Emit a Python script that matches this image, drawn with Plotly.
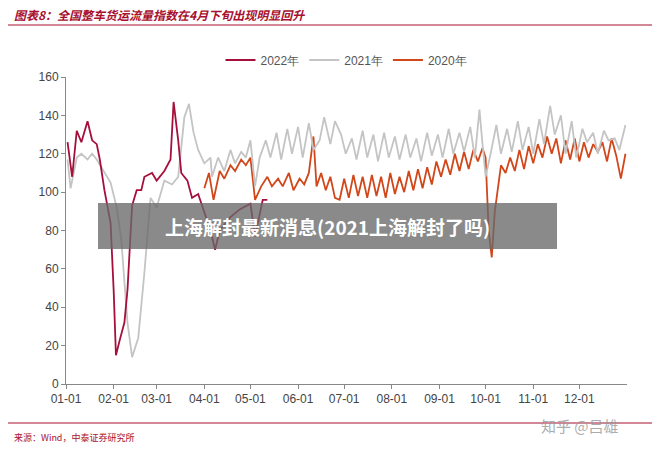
import plotly.graph_objects as go

# 横轴为一年中的天数
month_days = [0, 31, 59, 90, 120, 151, 181, 212, 243, 273, 304, 334]
month_labels = ["01-01", "02-01", "03-01", "04-01", "05-01", "06-01",
                "07-01", "08-01", "09-01", "10-01", "11-01", "12-01"]

days_2022 = [1, 4, 7, 10, 14, 17, 20, 22, 25, 29, 31, 32.5, 35, 38, 40, 43, 46, 49, 51, 56,
             59, 64, 68, 70, 73, 75, 79, 82, 86, 89, 94, 97, 100, 107, 113, 120, 123, 128, 131]
vals_2022 = [126, 108, 132, 126, 137, 127, 125, 117, 101, 84, 49, 15, 23, 32, 49, 93, 101, 101, 108, 110,
             106, 111, 117, 147, 127, 110, 106, 97, 99, 92, 80, 70, 80, 87, 91, 94, 77, 96, 96]

days_2021 = [1, 3, 7, 10, 14, 17, 20, 25, 29, 33, 36, 40, 43, 47, 51, 55, 59, 64, 69, 73, 77, 80, 83,
             86, 90, 94, 95, 99, 103, 107, 110, 114, 117, 120, 123,
             126, 130, 133, 137, 140, 144, 147, 151, 154, 158, 161, 165, 168, 172, 175, 179, 182, 186,
             189, 193, 196, 200, 203, 207, 210, 214, 217, 221, 224, 228, 231, 235, 238, 242, 245, 249,
             252, 256, 259, 263, 266, 269, 271, 273, 276, 280, 283, 287, 290, 294, 297, 301, 304, 308,
             311, 315, 318, 322, 325, 329, 332, 336, 339, 343, 346, 350, 353, 357, 360, 364]
vals_2021 = [117, 102, 118, 120, 117, 120, 117, 110, 105, 92, 75, 32, 14, 24, 58, 97, 92, 106, 104, 108,
             139, 146, 131, 122, 115, 118, 108, 118, 111, 122, 115, 121, 118, 127, 103,
             118, 127, 118, 131, 117, 133, 120, 134, 118, 136, 122, 127, 139, 125, 137, 130, 120, 128,
             117, 132, 118, 130, 116, 131, 118, 129, 117, 130, 118, 128, 116, 131, 119, 130, 118, 133,
             120, 131, 121, 134, 118, 143, 125, 108, 119, 135, 120, 133, 121, 137, 122, 134, 120, 138,
             125, 145, 130, 140, 120, 137, 118, 133, 126, 131, 120, 132, 127, 128, 122, 135]

days_2020 = [90, 93, 96, 100, 103, 107, 110, 114, 117, 120, 123, 127, 131, 134, 138, 141, 145, 148,
             152, 155, 158, 161, 163, 166, 169, 172, 175, 178, 181, 184, 187, 190, 193, 196, 199, 202,
             205, 208, 211, 214, 217, 220, 223, 226, 229, 232, 235, 238, 241, 244, 247, 250, 253, 256,
             259, 262, 265, 268, 271, 273, 275, 277, 279, 283, 286, 289, 292, 295, 298, 301, 304, 307,
             310, 313, 316, 319, 322, 325, 328, 331, 334, 337, 340, 343, 346, 349, 352, 355, 358, 361, 364]
vals_2020 = [102, 110, 96, 111, 107, 114, 111, 117, 114, 118, 96, 103, 108, 103, 107, 103, 110, 101,
             107, 104, 110, 129, 103, 110, 101, 108, 97, 96, 107, 97, 109, 98, 108, 97, 109, 98,
             108, 97, 110, 99, 108, 100, 111, 101, 112, 102, 113, 104, 116, 108, 117, 109, 120, 111,
             121, 112, 122, 116, 123, 118, 80, 66, 90, 114, 110, 118, 111, 122, 112, 124, 115, 125,
             118, 129, 120, 128, 115, 127, 117, 128, 116, 126, 118, 125, 121, 126, 116, 128, 119, 107, 120]

RED = "#A8102E"


def px(x):
    return (x - 66) / 561


def py(y):
    return (384 - y) / 307


fig = go.Figure()
fig.add_trace(go.Scatter(x=days_2020, y=vals_2020, mode="lines", name="2020年",
                         line=dict(color="#D2471A", width=1.8)))
fig.add_trace(go.Scatter(x=days_2021, y=vals_2021, mode="lines", name="2021年",
                         line=dict(color="#C4C4C4", width=1.8)))
fig.add_trace(go.Scatter(x=days_2022, y=vals_2022, mode="lines", name="2022年",
                         line=dict(color="#A50F3C", width=1.8)))

shapes = [
    dict(type="line", xref="paper", yref="paper", x0=px(4), x1=px(656), y0=py(4), y1=py(4),
         line=dict(color=RED, width=2.5)),
    dict(type="line", xref="paper", yref="paper", x0=px(4), x1=px(656), y0=py(25), y1=py(25),
         line=dict(color=RED, width=1)),
    dict(type="line", xref="paper", yref="paper", x0=px(4), x1=px(656), y0=py(423), y1=py(423),
         line=dict(color=RED, width=1)),
    dict(type="rect", xref="paper", yref="paper", x0=px(98), x1=px(557), y0=py(249), y1=py(203),
         fillcolor="rgba(105,105,105,0.78)", line=dict(width=0), layer="above"),
]

annotations = [
    dict(text="<b><i>图表8：全国整车货运流量指数在4月下旬出现明显回升</i></b>", x=px(12), y=py(15),
         xref="paper", yref="paper", xanchor="left", yanchor="middle", showarrow=False,
         font=dict(size=12, color=RED, family="Noto Sans CJK SC")),
    dict(text="来源：Wind，中泰证券研究所", x=px(12), y=py(437), xref="paper", yref="paper",
         xanchor="left", yanchor="middle", showarrow=False,
         font=dict(size=9, color=RED, family="Noto Sans CJK SC")),
    dict(text="<b>上海解封最新消息(2021上海解封了吗)</b>", x=px(327), y=py(226), xref="paper",
         yref="paper", xanchor="center", yanchor="middle", showarrow=False,
         font=dict(size=19, color="white", family="Noto Sans CJK SC")),
    dict(text="知乎 @吕雄", x=px(580), y=py(425), xref="paper", yref="paper",
         xanchor="center", yanchor="middle", showarrow=False,
         font=dict(size=15, color="rgba(150,150,150,0.8)", family="Noto Sans CJK SC")),
]

fig.update_layout(
    width=660, height=453,
    margin=dict(l=58, r=41, t=69, b=77, autoexpand=False),
    plot_bgcolor="white", paper_bgcolor="white",
    font=dict(family="Liberation Sans, Arial", size=12, color="#444"),
    showlegend=True,
    legend=dict(orientation="h", x=0.5, xanchor="center", y=py(60), yanchor="middle",
                traceorder="reversed", font=dict(size=12, color="#555")),
    xaxis=dict(range=[0, 365], tickvals=month_days, ticktext=month_labels, showgrid=False,
               zeroline=False, showline=True, linecolor="#888", ticks="outside", ticklen=4,
               tickcolor="#888"),
    yaxis=dict(range=[0, 160], dtick=20, showgrid=False, zeroline=False, showline=True,
               linecolor="#888", ticks="outside", ticklen=4, tickcolor="#888"),
    shapes=shapes, annotations=annotations,
)

fig.write_html("out.html")
